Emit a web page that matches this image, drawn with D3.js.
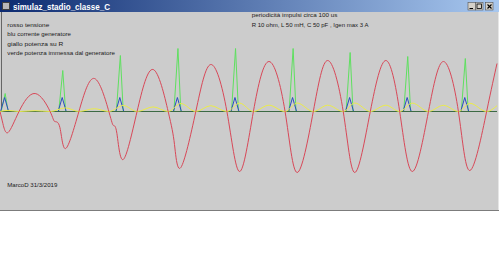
<!DOCTYPE html>
<html><head><meta charset="utf-8">
<script src="https://cdn.jsdelivr.net/npm/d3@7"></script>
<style>html,body{margin:0;padding:0;background:#fff;overflow:hidden}svg{display:block}</style>
</head><body>
<script>
// ---- data (time in µs) ----
const redT = [0,5,14,33,61,87,95,104,114,137,164,189,197,203,214,238,266,292,303,314,340,366,394,416,440,467,495,516,544,569,596,616,643,670,694,716,744,770,796,816,845,863];
const redV = [0,-12,-21,0,18,0,-10,-16,-37,0,33,0,-14,-22,-48,0,42,0,-33,-56,0,47,0,-60,0,50,0,-61,0,51,0,-61,0,51,0,-60,0,50,0,-59,0,48];

const pulseT = [8,108,208,308,408,508,607,707,807];
const blueT = [0,1,8,15,101,108,115,201,208,215,301,308,315,401,408,415,501,508,515,600,607,614,700,707,714,800,807,814,863];
const blueI = [0,0,3,0,0,3,0,0,3,0,0,3,0,0,3,0,0,3,0,0,3,0,0,3,0,0,3,0,0];

const greenT = [0,2,9,14,102,109,114,202,209,214,302,309,314,402,409,414,502,509,514,601,608,613,701,708,713,801,808,813,863];
const greenP = [0,0,18,0,0,41,0,0,56,0,0,63,0,0,63,0,0,63,0,0,59,0,0,55,0,0,53,0,0];

const yellowT = [0,14,33,61,87,114,137,164,189,214,238,266,292,314,340,366,394,416,440,467,495,516,544,569,596,616,643,670,694,716,744,770,796,816,845,863];
const yellowP = [0,1.1,0,0.8,0,3.6,0,2.8,0,6,0,4.6,0,8,0,5.8,0,8.4,0,6.3,0,8.5,0,6.3,0,8.5,0,6.3,0,8.4,0,6.2,0,8.2,0,5.8];

const legendLeft = ["rosso tensione","blu corrente generatore","giallo potenza su R","verde potenza immessa dal generatore"];
const legendRight = ["periodicità impulsi circa 100 us","R 10 ohm, L 50 mH, C 50 pF , Igen max 3 A"];
const title = "simulaz_stadio_classe_C";
const signature = "MarcoD 31/3/2019";

// ---- drawing ----
const W = 500, H = 262;
const svg = d3.select("body").append("svg").attr("width", W).attr("height", H);
const font = "'Liberation Sans', Arial, sans-serif";

// window panel
svg.append("rect").attr("x",0).attr("y",0).attr("width",W).attr("height",H).attr("fill","#ffffff");
svg.append("rect").attr("x",0).attr("y",12).attr("width",499).attr("height",198).attr("fill","#cccccc");
svg.append("line").attr("x1",0).attr("x2",499).attr("y1",210.5).attr("y2",210.5).attr("stroke","#7c7c7c").attr("stroke-width",1.2);
svg.append("line").attr("x1",498.5).attr("x2",498.5).attr("y1",12).attr("y2",210).attr("stroke","#e6e6e6").attr("stroke-width",1);

// title bar
const defs = svg.append("defs");
const grad = defs.append("linearGradient").attr("id","tb").attr("x1","0").attr("x2","1").attr("y1","0").attr("y2","0");
grad.append("stop").attr("offset","0").attr("stop-color","#0c2a70");
grad.append("stop").attr("offset","1").attr("stop-color","#a8c8f0");
svg.append("rect").attr("x",0).attr("y",0).attr("width",499).attr("height",12).attr("fill","url(#tb)");
svg.append("rect").attr("x",2.5).attr("y",2.5).attr("width",7).attr("height",7).attr("fill","#b8b8b8").attr("stroke","#404040").attr("stroke-width",1);
svg.append("text").attr("x",13).attr("y",10).attr("fill","#ffffff").attr("font-family",font)
  .attr("font-weight","bold").attr("font-size",8.4).attr("textLength",97).attr("lengthAdjust","spacingAndGlyphs").text(title);
// buttons
const btnX = [468, 475.5, 485.5];
btnX.forEach((bx,i)=>{
  svg.append("rect").attr("x",bx).attr("y",2.5).attr("width",7.5).attr("height",7.5).attr("fill","#d4d0c8").attr("stroke","#555").attr("stroke-width",0.6);
});
svg.append("line").attr("x1",469.5).attr("x2",473).attr("y1",8.5).attr("y2",8.5).attr("stroke","#000").attr("stroke-width",1);
svg.append("rect").attr("x",477).attr("y",4).attr("width",4.5).attr("height",4.5).attr("fill","none").attr("stroke","#000").attr("stroke-width",0.8);
svg.append("path").attr("d","M487.5,4.5L491.5,8.5M491.5,4.5L487.5,8.5").attr("stroke","#000").attr("stroke-width",1.1);

// scales
const x = d3.scaleLinear().domain([0, 863]).range([0, 497]);
const yV = d3.scaleLinear().domain([-100, 100]).range([211.5, 11.5]);
const yI = d3.scaleLinear().domain([0, 3]).range([111.5, 97.5]);
const yP = d3.scaleLinear().domain([0, 100]).range([111.5, 11.5]);

// left vertical line
svg.append("line").attr("x1",1.5).attr("x2",1.5).attr("y1",12).attr("y2",yV(0)).attr("stroke","#666").attr("stroke-width",1);

const plot = svg.append("g");
// green (power from generator)
plot.append("path").datum(greenT.map((t,i)=>[t,greenP[i]]))
  .attr("d", d3.line().x(d=>x(d[0])).y(d=>yP(d[1])))
  .attr("fill","none").attr("stroke","#5fe060").attr("stroke-width",1);
// blue (current)
plot.append("path").datum(blueT.map((t,i)=>[t,blueI[i]]))
  .attr("d", d3.line().x(d=>x(d[0])).y(d=>yI(d[1])))
  .attr("fill","none").attr("stroke","#2a4cc0").attr("stroke-width",1);
// baseline
plot.append("line").attr("x1",0).attr("x2",497).attr("y1",yV(0)).attr("y2",yV(0)).attr("stroke","#3c6a44").attr("stroke-width",1);
// yellow (power on R)
plot.append("path").datum(yellowT.map((t,i)=>[t,yellowP[i]]))
  .attr("d", d3.line().curve(d3.curveMonotoneX).x(d=>x(d[0])).y(d=>yP(d[1])))
  .attr("fill","none").attr("stroke","#ecec48").attr("stroke-width",1);
// red (voltage)
plot.append("path").datum(redT.map((t,i)=>[t,redV[i]]))
  .attr("d", d3.line().curve(d3.curveNatural).x(d=>x(d[0])).y(d=>yV(d[1])))
  .attr("fill","none").attr("stroke","#d84858").attr("stroke-width",1);

// texts
const leftW = [42, 63.7, 56, 107.7];
legendLeft.forEach((s,i)=>{
  svg.append("text").attr("x",7.3).attr("y",26.5+i*9.6).attr("font-family",font).attr("font-size",6.2)
    .attr("fill","#1a1a1a").attr("textLength",leftW[i]).attr("lengthAdjust","spacingAndGlyphs").text(s);
});
const rightW = [85.7, 116.7];
legendRight.forEach((s,i)=>{
  svg.append("text").attr("x",251.7).attr("y",17.3+i*10).attr("font-family",font).attr("font-size",6.2)
    .attr("fill","#1a1a1a").attr("textLength",rightW[i]).attr("lengthAdjust","spacingAndGlyphs").text(s);
});
svg.append("text").attr("x",7.3).attr("y",186.5).attr("font-family",font).attr("font-size",6.2)
  .attr("fill","#1a1a1a").attr("textLength",50).attr("lengthAdjust","spacingAndGlyphs").text(signature);
</script>
</body></html>
